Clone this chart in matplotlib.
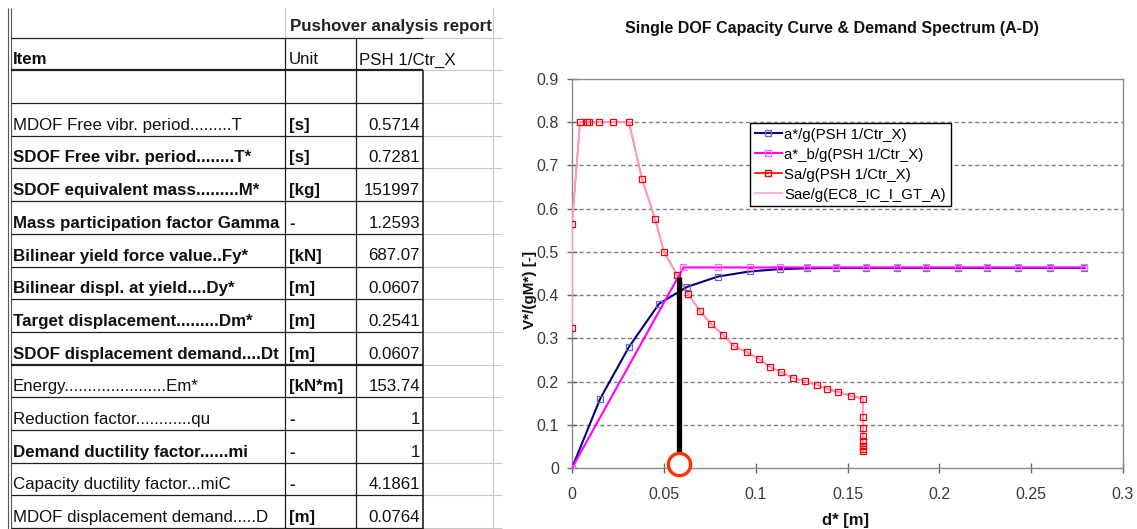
import matplotlib
matplotlib.use("Agg")
import matplotlib.pyplot as plt
from matplotlib.transforms import Bbox, TransformedBbox
from matplotlib.lines import Line2D

plt.rcParams['font.family'] = ['Liberation Sans', 'DejaVu Sans']

# ---------------- table data ----------------
report_title = "Pushover analysis report"
col_headers = ["Item", "Unit", "PSH 1/Ctr_X"]
items = ["MDOF Free vibr. period.........T",
         "SDOF Free vibr. period........T*",
         "SDOF equivalent mass.........M*",
         "Mass participation factor Gamma",
         "Bilinear yield force value..Fy*",
         "Bilinear displ. at yield....Dy*",
         "Target displacement.........Dm*",
         "SDOF displacement demand....Dt",
         "Energy......................Em*",
         "Reduction factor............qu",
         "Demand ductility factor......mi",
         "Capacity ductility factor...miC",
         "MDOF displacement demand.....D"]
units = ["[s]", "[s]", "[kg]", "-", "[kN]", "[m]", "[m]", "[m]", "[kN*m]", "-", "-", "-", "[m]"]
values = ["0.5714", "0.7281", "151997", "1.2593", "687.07", "0.0607", "0.2541",
          "0.0607", "153.74", "1", "1", "4.1861", "0.0764"]
item_bold = [False, True, True, True, True, True, True, True, False, False, True, False, False]

# ---------------- chart data ----------------
chart_title = "Single DOF Capacity Curve & Demand Spectrum (A-D)"
cap_d = [0, 0.0153, 0.031, 0.0474, 0.0626, 0.0795, 0.097, 0.113, 0.128, 0.144,
         0.160, 0.177, 0.193, 0.210, 0.226, 0.243, 0.260, 0.279]
cap_v = [0, 0.160, 0.280, 0.380, 0.419, 0.443, 0.455, 0.460, 0.462, 0.463,
         0.463, 0.463, 0.463, 0.463, 0.463, 0.463, 0.463, 0.463]
bil_d = [0, 0.0607, 0.0795, 0.097, 0.113, 0.128, 0.144, 0.160, 0.177, 0.193,
         0.210, 0.226, 0.243, 0.260, 0.279]
bil_v = [0, 0.464, 0.464, 0.464, 0.464, 0.464, 0.464, 0.464, 0.464, 0.464,
         0.464, 0.464, 0.464, 0.464, 0.464]
sa_d = [0, 0, 0.0044, 0.0080, 0.0090, 0.0147, 0.0223, 0.031, 0.0381, 0.0452, 0.0501,
        0.0572, 0.0632, 0.0697, 0.0757, 0.0822, 0.0882, 0.0953, 0.1019, 0.1078, 0.1138,
        0.1204, 0.1269, 0.1334, 0.1389, 0.1449, 0.1520, 0.1585, 0.1585, 0.1585,
        0.1585, 0.1585, 0.1585, 0.1585, 0.1585]
sa_v = [0.324, 0.565, 0.80, 0.80, 0.80, 0.80, 0.80, 0.80, 0.669, 0.576, 0.500,
        0.447, 0.403, 0.363, 0.333, 0.308, 0.282, 0.268, 0.252, 0.234, 0.222,
        0.208, 0.201, 0.192, 0.183, 0.176, 0.167, 0.160, 0.118, 0.092, 0.075,
        0.062, 0.052, 0.045, 0.040]
perf_d = 0.0583
perf_v = 0.443
legend_labels = ["a*/g(PSH 1/Ctr_X)", "a*_b/g(PSH 1/Ctr_X)", "Sa/g(PSH 1/Ctr_X)",
                 "Sae/g(EC8_IC_I_GT_A)"]
x_ticks = [0, 0.05, 0.1, 0.15, 0.2, 0.25, 0.3]
x_tick_labels = ["0", "0.05", "0.1", "0.15", "0.2", "0.25", "0.3"]
y_ticks = [0, 0.1, 0.2, 0.3, 0.4, 0.5, 0.6, 0.7, 0.8, 0.9]
y_tick_labels = ["0", "0.1", "0.2", "0.3", "0.4", "0.5", "0.6", "0.7", "0.8", "0.9"]

W, H = 1137, 529
fig = plt.figure(figsize=(W / 100, H / 100), dpi=100)
fig.patch.set_facecolor("white")

# ---------------- table (pixel-coordinate overlay) ----------------
tab = fig.add_axes([0, 0, 1, 1])
tab.set_xlim(0, W)
tab.set_ylim(H, 0)
tab.axis("off")

x_left, x_unit, x_val, x_end, x_grey = 11, 285, 356, 423, 493
row_h = 32.7
y_hdr = 38
y_item = 70
y_blank = 103
bottoms = [y_blank + row_h * (i + 1) for i in range(len(items))]

dark = "#202020"
grey = "#c8c8c8"
fs = 12.2

def hline(y, x0, x1, color=dark, lw=0.9):
    tab.plot([x0, x1], [y, y], color=color, lw=lw, solid_capstyle="butt")

def vline(x, y0, y1, color=dark, lw=0.9):
    tab.plot([x, x], [y0, y1], color=color, lw=lw, solid_capstyle="butt")

# grey sheet grid to the right
for y in [y_hdr, y_item, y_blank] + bottoms:
    hline(y, x_end, 502, grey, 0.8)
vline(x_grey, 8, H, grey, 0.8)
vline(x_unit, 8, y_hdr, grey, 0.8)

# left double border
vline(8, 8, H, "#555555", 0.8)
vline(x_left, 8, H, "#555555", 0.8)

hline(y_hdr, x_left, x_end, dark, 0.9)
hline(y_item, x_left, x_end, dark, 1.6)
hline(y_blank, x_left, x_end)
for i, b in enumerate(bottoms):
    hline(b, x_left, x_end, dark, 1.6 if i == 7 else 0.9)
vline(x_unit, y_hdr, H)
vline(x_val, y_hdr, H)
vline(x_end, y_item, H, dark, 1.2)

def clipped_text(x, y, s, x0, x1, **kw):
    t = tab.text(x, y, s, va="center", fontsize=fs, color="#111111", **kw)
    bb = TransformedBbox(Bbox.from_extents(x0, 0, x1, H), tab.transData)
    t.set_clip_box(bb)
    t.set_clip_on(True)
    return t

tab.text(290, y_hdr - 11, report_title, va="center", fontsize=fs, color="#222222",
         fontweight="bold")
clipped_text(13, y_item - 10, col_headers[0], x_left, x_unit, fontweight="bold")
clipped_text(289, y_item - 10, col_headers[1], x_unit, x_val)
tab.text(359, y_item - 10, col_headers[2], va="center", fontsize=fs, color="#111111")

for i, (it, un, va) in enumerate(zip(items, units, values)):
    yc = bottoms[i] - 10.5
    clipped_text(13, yc, it, x_left, x_unit - 1,
                 fontweight="bold" if item_bold[i] else "normal")
    clipped_text(289, yc, un, x_unit, x_val, fontweight="bold")
    tab.text(x_end - 3, yc, va, va="center", ha="right", fontsize=fs, color="#111111")

# ---------------- chart ----------------
ax = fig.add_axes([572 / W, 1 - 468 / H, (1123 - 572) / W, (468 - 79) / H])
ax.set_xlim(0, 0.3)
ax.set_ylim(0, 0.9)

for y in y_ticks[1:-1]:
    ax.axhline(y, color="#808080", lw=1.0, ls=(0, (3, 2)), zorder=1)

ax.plot(sa_d, sa_v, color="red", lw=1.0, zorder=2)
ax.plot(sa_d, sa_v, color="#ff99cc", lw=1.4, zorder=3)
ax.plot(sa_d, sa_v, ls="none", marker="s", ms=5, mfc="none", mec="red", mew=0.9, zorder=6)
ax.plot(cap_d, cap_v, color="#000080", lw=1.5, marker="s", ms=5, mfc="none",
        mec="#6a6ab8", mew=0.9, zorder=4)
ax.plot(bil_d, bil_v, color="#ff00ff", lw=1.5, marker="s", ms=5, mfc="none",
        mec="#ff66ff", mew=0.9, zorder=5)
ax.plot([perf_d, perf_d], [0, perf_v], color="black", lw=3.8, zorder=7,
        solid_capstyle="butt")
ax.plot([perf_d], [0.01], ls="none", marker="o", ms=16, mfc="white", mec="#ff3300",
        mew=2.4, zorder=8, clip_on=False)

for side in ["top", "right", "left", "bottom"]:
    ax.spines[side].set_color("#8a8a8a")
    ax.spines[side].set_linewidth(1.0)

ax.set_xticks(x_ticks)
ax.set_xticklabels(x_tick_labels)
ax.set_yticks(y_ticks)
ax.set_yticklabels(y_tick_labels)
ax.tick_params(axis="both", direction="inout", length=7, width=1.0, color="#666666",
               labelsize=11.5, labelcolor="#3a3a3a")
ax.tick_params(axis="x", pad=10)
ax.tick_params(axis="y", pad=6)

handles = [
    Line2D([], [], color="#000080", lw=1.5, marker="s", ms=4, mfc="none", mec="#6a6ab8"),
    Line2D([], [], color="#ff00ff", lw=1.5, marker="s", ms=4, mfc="none", mec="#ff66ff"),
    Line2D([], [], color="red", lw=1.2, marker="s", ms=4, mfc="none", mec="red"),
    Line2D([], [], color="#ffb3d9", lw=1.5),
]
leg = ax.legend(handles, legend_labels, loc="upper left",
                bbox_to_anchor=((750 - 572) / 551, (468 - 123) / 389),
                borderaxespad=0, fontsize=10.8, frameon=True, fancybox=False,
                edgecolor="black", framealpha=1, handlelength=1.8, handletextpad=0.2,
                labelspacing=0.4, borderpad=0.3)
leg.get_frame().set_linewidth(1.0)
leg.set_zorder(10)

fig.text(832 / W, 1 - 28 / H, chart_title, ha="center", va="center",
         fontsize=11.5, fontweight="bold", color="#111111")
fig.text(530 / W, 1 - 290 / H, "V*/(gM*) [-]", ha="center", va="center",
         rotation=90, fontsize=11, fontweight="bold", color="#111111")
fig.text(845 / W, 1 - 521 / H, "d* [m]", ha="center", va="center",
         fontsize=12, fontweight="bold", color="#111111")

fig.savefig("out.png", dpi=100, facecolor="white")
